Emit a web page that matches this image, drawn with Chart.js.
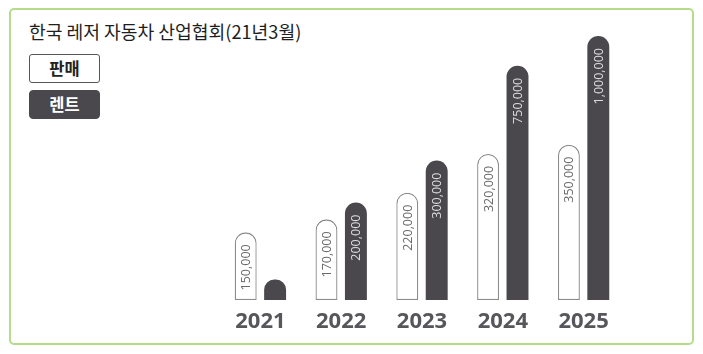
<!DOCTYPE html>
<html>
<head>
<meta charset="utf-8">
<script src="https://cdn.jsdelivr.net/npm/chart.js@4"></script>
<style>
  html, body { margin: 0; padding: 0; background: #ffffff; }
  #wrap { position: relative; width: 703px; height: 354px; overflow: hidden; }
  #frame { position: absolute; left: 9px; top: 8px; width: 681px; height: 333px;
           border: 2px solid #b5dc8b; border-radius: 5px; box-sizing: content-box; }
  #title { position: absolute; left: 29px; top: 22px; font-family: "Noto Sans CJK KR", sans-serif;
           font-size: 18.2px; line-height: 18px; color: #1e1e1e; white-space: nowrap; }
  .lg { position: absolute; left: 29px; width: 71px; height: 29px; box-sizing: border-box;
        border-radius: 4px; font-family: "Noto Sans CJK KR", sans-serif; font-weight: bold;
        font-size: 16.5px; line-height: 26px; text-align: center; }
  canvas { position: absolute; left: 0; top: 0; }
</style>
</head>
<body>
<div id="wrap">
  <div id="frame"></div>
  <div id="title"></div>
  <div id="legend"></div>
  <canvas id="c" width="703" height="354"></canvas>
</div>
<script>
const chartTitle = '한국 레저 자동차 산업협회(21년3월)';
const years = ['2021', '2022', '2023', '2024', '2025'];
const seriesNames = ['판매', '렌트'];
const salesValues = [150000, 170000, 220000, 320000, 350000];
const rentValues = [95000, 200000, 300000, 750000, 1000000];
const axisMin = 78000;
const axisMax = 1000000;

const salesColor = '#ffffff', salesBorder = '#8c8c8c';
const rentColor = '#4a484d';

// legend (HTML, built from series names)
const legend = document.getElementById('legend');
seriesNames.forEach((name, i) => {
  const d = document.createElement('div');
  d.className = 'lg';
  d.textContent = name;
  d.style.top = (54 + i * 36) + 'px';
  if (i === 0) { d.style.background = '#fff'; d.style.border = '1.5px solid #555'; d.style.color = '#222'; d.style.borderRadius = '3px'; }
  else { d.style.background = rentColor; d.style.color = '#fff'; d.style.border = '1px solid ' + rentColor; }
  legend.appendChild(d);
});
document.getElementById('title').textContent = chartTitle;

const valueLabels = {
  id: 'valueLabels',
  afterDatasetsDraw(chart) {
    const ctx = chart.ctx;
    chart.data.datasets.forEach((ds, di) => {
      const meta = chart.getDatasetMeta(di);
      meta.data.forEach((el, i) => {
        const txt = ds.data[i].toLocaleString('en-US');
        ctx.save();
        ctx.font = '12.5px "Open Sans", sans-serif';
        const w = ctx.measureText(txt).width;
        const h = el.base - el.y;
        if (w + 16 <= h) {
          ctx.translate(el.x, el.y + 12);
          ctx.rotate(-Math.PI / 2);
          ctx.textAlign = 'right';
          ctx.textBaseline = 'middle';
          ctx.fillStyle = di === 0 ? '#6b6b6b' : '#dcdcdc';
          ctx.fillText(txt, 0, 1);
        }
        ctx.restore();
      });
    });
  }
};

const radius = { topLeft: 11, topRight: 11, bottomLeft: 0, bottomRight: 0 };

new Chart(document.getElementById('c'), {
  type: 'bar',
  data: {
    labels: years,
    datasets: [
      { label: seriesNames[0], data: salesValues, backgroundColor: salesColor, borderColor: salesBorder,
        borderWidth: 1.3, borderRadius: radius, borderSkipped: false,
        categoryPercentage: 0.728, barPercentage: 0.746 },
      { label: seriesNames[1], data: rentValues, backgroundColor: rentColor, borderColor: rentColor,
        borderWidth: 0, borderRadius: radius, borderSkipped: false,
        categoryPercentage: 0.728, barPercentage: 0.746 }
    ]
  },
  options: {
    responsive: false,
    devicePixelRatio: 1,
    animation: false,
    layout: { padding: { left: 220, right: 79, top: 36, bottom: 0 } },
    plugins: { legend: { display: false }, tooltip: { enabled: false }, title: { display: false } },
    scales: {
      x: {
        grid: { display: false, drawTicks: false },
        border: { display: false },
        ticks: { color: '#57565b', padding: 9, font: { family: 'Open Sans', weight: 'bold', size: 22 } },
        afterFit(scale) { scale.height = 54; }
      },
      y: {
        type: 'logarithmic', display: false, min: axisMin, max: axisMax
      }
    }
  },
  plugins: [valueLabels]
});
</script>
</body>
</html>
